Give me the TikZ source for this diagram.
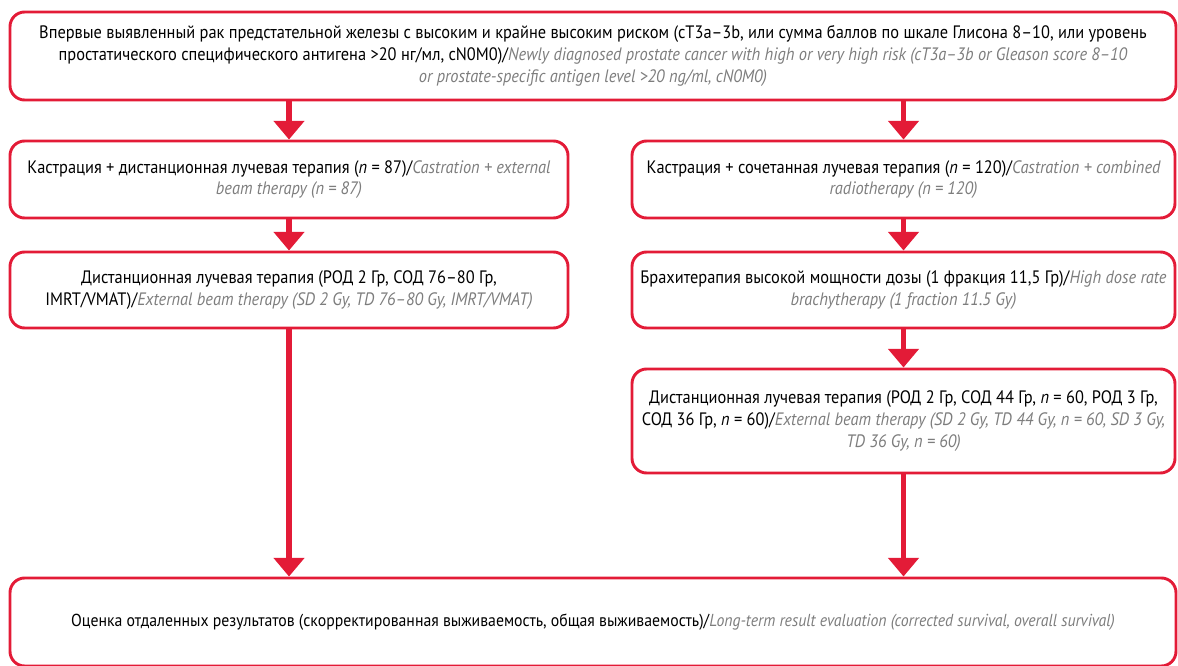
\documentclass[tikz,border=0pt]{standalone}
\usepackage{fontspec}
\setmainfont{PT Sans}[FakeStretch=0.91]
\usetikzlibrary{arrows.meta}
\definecolor{flowred}{RGB}{227,27,55}
\definecolor{engray}{RGB}{125,125,125}
\newcommand{\engl}[1]{\textcolor{engray}{\itshape #1}}
\tikzset{
  stage/.style={draw=flowred, line width=2.2pt, rounded corners=11pt, align=center,
    inner sep=0pt, font=\fontsize{13.5}{16.2}\selectfont},
  flow/.style={draw=flowred, line width=3.8pt, -{Triangle[width=22.5pt,length=14pt]}}
}
\begin{document}
\begin{tikzpicture}[x=0.75pt,y=-0.75pt]
\useasboundingbox (0,0) rectangle (1178,666);
\node[stage, minimum width=874.5pt, minimum height=66pt] (diag) at (593,56)
  {Впервые выявленный рак предстательной железы с высоким и крайне высоким риском (cT3a–3b, или сумма баллов по шкале Глисона 8–10, или уровень\\
   простатического специфического антигена >20 нг/мл, cN0M0)/\engl{Newly diagnosed prostate cancer with high or very high risk (cT3a–3b or Gleason score 8–10}\\
   \engl{or prostate-specific antigen level >20 ng/ml, cN0M0)}};
\node[stage, minimum width=418.5pt, minimum height=57.75pt] (castext) at (289,179.5)
  {Кастрация + дистанционная лучевая терапия (\textit{n} = 87)/\engl{Castration + external}\\
   \engl{beam therapy (n = 87)}};
\node[stage, minimum width=418.5pt, minimum height=57pt] (ebtleft) at (289,290)
  {Дистанционная лучевая терапия (РОД 2 Гр, СОД 76–80 Гр,\\
   IMRT/VMAT)/\engl{External beam therapy (SD 2 Gy, TD 76–80 Gy, IMRT/VMAT)}};
\node[stage, minimum width=407.25pt, minimum height=57.75pt] (cascomb) at (903.5,179.5)
  {Кастрация + сочетанная лучевая терапия (\textit{n} = 120)/\engl{Castration + combined}\\
   \engl{radiotherapy (n = 120)}};
\node[stage, minimum width=407.25pt, minimum height=57pt] (brachy) at (903.5,290)
  {Брахитерапия высокой мощности дозы (1 фракция 11,5 Гр)/\engl{High dose rate}\\
   \engl{brachytherapy (1 fraction 11.5 Gy)}};
\node[stage, minimum width=407.25pt, minimum height=78pt] (ebtright) at (903.5,421)
  {Дистанционная лучевая терапия (РОД 2 Гр, СОД 44 Гр, \textit{n} = 60, РОД 3 Гр,\\
   СОД 36 Гр, \textit{n} = 60)/\engl{External beam therapy (SD 2 Gy, TD 44 Gy, n = 60, SD 3 Gy,}\\
   \engl{TD 36 Gy, n = 60)}};
\node[stage, minimum width=874.5pt, minimum height=66pt, font=\fontsize{13}{16}\selectfont] (result) at (593,622)
  {Оценка отдаленных результатов (скорректированная выживаемость, общая выживаемость)/\engl{Long-term result evaluation (corrected survival, overall survival)}};
% arrows
\draw[flow] (diag.south -| castext.north) -- (castext.north);
\draw[flow] (diag.south -| cascomb.north) -- (cascomb.north);
\draw[flow] (castext) -- (ebtleft);
\draw[flow] (cascomb) -- (brachy);
\draw[flow] (brachy) -- (ebtright);
\draw[flow] (ebtleft.south) -- (ebtleft.south |- result.north);
\draw[flow] (ebtright.south) -- (ebtright.south |- result.north);
\end{tikzpicture}
\end{document}
